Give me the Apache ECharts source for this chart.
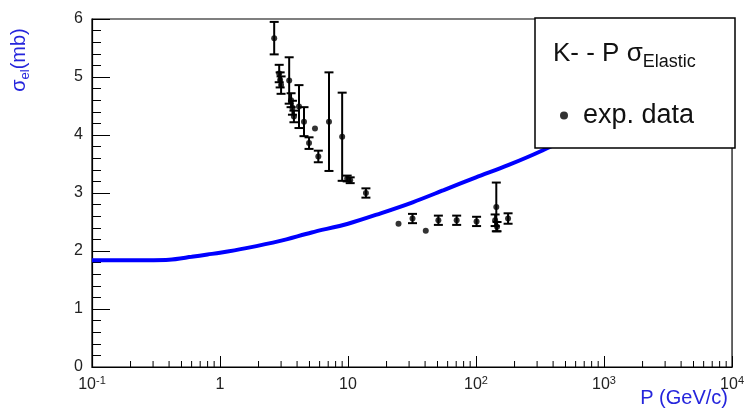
<!DOCTYPE html>
<html>
<head>
<meta charset="utf-8">
<script src="https://cdn.jsdelivr.net/npm/echarts@6/dist/echarts.min.js"></script>
<style>
  html, body { margin: 0; padding: 0; background: #fff; }
  #chart { width: 747px; height: 410px; }
</style>
</head>
<body>
<div id="chart"></div>
<script>
// Model curve: K- p elastic cross section vs beam momentum
const curveP     = [0.1, 0.2, 0.4, 0.6, 0.8, 1.0, 1.6, 2.9, 5.2, 10, 18, 32, 56, 100, 178, 320, 1000, 10000];
const curveSigma = [1.84, 1.84, 1.85, 1.90, 1.94, 1.97, 2.05, 2.17, 2.32, 2.47, 2.65, 2.84, 3.05, 3.27, 3.48, 3.72, 4.25, 5.5];

// Experimental points (momentum GeV/c, sigma mb, error mb)
const expP     = [2.65, 2.90, 2.95, 3.00, 3.47, 3.59, 3.68, 3.78, 4.14, 4.53, 5.52, 4.96, 5.86, 7.10, 9.00, 9.85, 10.4, 13.8, 24.8, 31.9, 40.5, 50.8, 70.6, 101, 144, 141, 146, 178];
const expSigma = [5.67, 5.06, 4.95, 4.86, 4.94, 4.60, 4.47, 4.32, 4.49, 4.23, 4.11, 3.86, 3.63, 4.23, 3.97, 3.25, 3.22, 3.00, 2.47, 2.56, 2.35, 2.53, 2.53, 2.51, 2.76, 2.53, 2.42, 2.56];
const expErr   = [0.28, 0.15, 0.13, 0.15, 0.40, 0.12, 0.12, 0.10, 0.37, 0.25, 0, 0.10, 0.10, 0.85, 0.76, 0.05, 0.05, 0.08, 0, 0.08, 0, 0.08, 0.08, 0.08, 0.42, 0.10, 0.08, 0.09];

// Axis ranges and tick positions
const xMin = 0.1, xMax = 10000;
const yMin = 0, yMax = 6, yStep = 1;
const xMinorTicks = [];
for (let d = -1; d <= 3; d++) {
  for (let k = 2; k <= 9; k++) xMinorTicks.push(k * Math.pow(10, d));
}

const FONT = '"Liberation Sans", Arial, Helvetica, sans-serif';
const TITLE_BLUE = '#2525dc';

const curveData = curveP.map((p, i) => [p, curveSigma[i]]);
const expData = expP.map((p, i) => [p, expSigma[i], expErr[i]]);

const chart = echarts.init(document.getElementById('chart'), null, { renderer: 'canvas' });

chart.setOption({
  animation: false,
  backgroundColor: '#fff',
  grid: {
    left: 92, right: 12, top: 19, bottom: 43,
    show: true, borderColor: '#000', borderWidth: 1.2, backgroundColor: 'transparent'
  },
  xAxis: {
    type: 'log', logBase: 10, min: xMin, max: xMax,
    axisLine: { lineStyle: { color: '#000', width: 1.2 } },
    axisTick: { inside: true, length: 11, lineStyle: { color: '#000', width: 1 } },
    splitLine: { show: false },
    axisLabel: {
      margin: 8, color: '#222', fontFamily: FONT, showMinLabel: true, showMaxLabel: true,
      formatter: function (v) {
        const e = Math.round(Math.log10(v));
        if (e === 0) return '{b|1}';
        if (e === 1) return '{b|10}';
        return '{b|10}{s|' + e + '}';
      },
      rich: {
        b: { fontSize: 16, lineHeight: 20, fontFamily: FONT, color: '#222' },
        s: { fontSize: 11, lineHeight: 12, verticalAlign: 'top', fontFamily: FONT, color: '#222' }
      }
    }
  },
  yAxis: {
    type: 'value', min: yMin, max: yMax, interval: yStep,
    axisLine: { show: true, lineStyle: { color: '#000', width: 1.2 } },
    axisTick: { inside: true, length: 18, lineStyle: { color: '#000', width: 1 } },
    minorTick: { show: true, splitNumber: 5, length: 9, lineStyle: { color: '#000', width: 1 } },
    splitLine: { show: false },
    axisLabel: { margin: 9, fontSize: 16, color: '#222', fontFamily: FONT }
  },
  legend: {
    data: [{ name: 'exp. data', icon: 'circle' }],
    left: 555, top: 97, itemWidth: 8, itemHeight: 8, itemGap: 10,
    textStyle: { fontSize: 27, fontFamily: FONT, color: '#111', padding: [0, 0, 0, 10] },
    z: 120, selectedMode: false
  },
  graphic: [
    {
      type: 'rect', z: 100,
      shape: { x: 535, y: 18, width: 200, height: 130 },
      style: { fill: '#fff', stroke: '#000', lineWidth: 1.5 }
    },
    {
      type: 'text', z: 110, x: 553, y: 54,
      style: {
        text: '{m|K- - P \u03c3}{sub|Elastic}',
        verticalAlign: 'middle',
        rich: {
          m: { fontSize: 26, fontFamily: FONT, fill: '#111', lineHeight: 34 },
          sub: { fontSize: 18, fontFamily: FONT, fill: '#111', verticalAlign: 'bottom', lineHeight: 22 }
        }
      }
    },
    {
      type: 'text', z: 110, x: 19, y: 60, rotation: Math.PI / 2,
      style: {
        text: '{m|\u03c3}{sub|el}{m|(mb)}',
        align: 'center', verticalAlign: 'middle',
        rich: {
          m: { fontSize: 20, fontFamily: FONT, fill: TITLE_BLUE, lineHeight: 26 },
          sub: { fontSize: 13, fontFamily: FONT, fill: TITLE_BLUE, verticalAlign: 'bottom', lineHeight: 16 }
        }
      }
    },
    {
      type: 'text', z: 110, x: 728, y: 398,
      style: {
        text: 'P (GeV/c)', align: 'right', verticalAlign: 'middle',
        fontSize: 20, fontFamily: FONT, fill: TITLE_BLUE
      }
    }
  ],
  series: [
    {
      name: 'model', type: 'line', data: curveData, smooth: 0.3,
      showSymbol: false, symbol: 'none',
      lineStyle: { color: '#0000ff', width: 4 }, z: 2, silent: true
    },
    {
      name: 'exp. data errors', type: 'custom', data: expData, z: 3, silent: true,
      renderItem: function (params, api) {
        const x = api.value(0), y = api.value(1), e = api.value(2);
        if (!(e > 0)) return { type: 'group', children: [] };
        const top = api.coord([x, y + e]);
        const bot = api.coord([x, y - e]);
        const hw = 4.5;
        const st = { stroke: '#000', lineWidth: 2 };
        return {
          type: 'group',
          children: [
            { type: 'line', shape: { x1: top[0], y1: top[1], x2: bot[0], y2: bot[1] }, style: st },
            { type: 'line', shape: { x1: top[0] - hw, y1: top[1], x2: top[0] + hw, y2: top[1] }, style: st },
            { type: 'line', shape: { x1: bot[0] - hw, y1: bot[1], x2: bot[0] + hw, y2: bot[1] }, style: st }
          ]
        };
      }
    },
    {
      name: 'exp. data', type: 'scatter', data: expData.map(d => [d[0], d[1]]),
      symbol: 'circle', symbolSize: 6, itemStyle: { color: '#000' }, z: 4, silent: true
    },
    {
      name: 'x minor ticks', type: 'custom', data: xMinorTicks.map(v => [v, yMin]), z: 5, silent: true,
      renderItem: function (params, api) {
        const p = api.coord([api.value(0), yMin]);
        return {
          type: 'line',
          shape: { x1: p[0], y1: p[1], x2: p[0], y2: p[1] - 6 },
          style: { stroke: '#000', lineWidth: 1 }
        };
      }
    }
  ]
});
</script>
</body>
</html>
